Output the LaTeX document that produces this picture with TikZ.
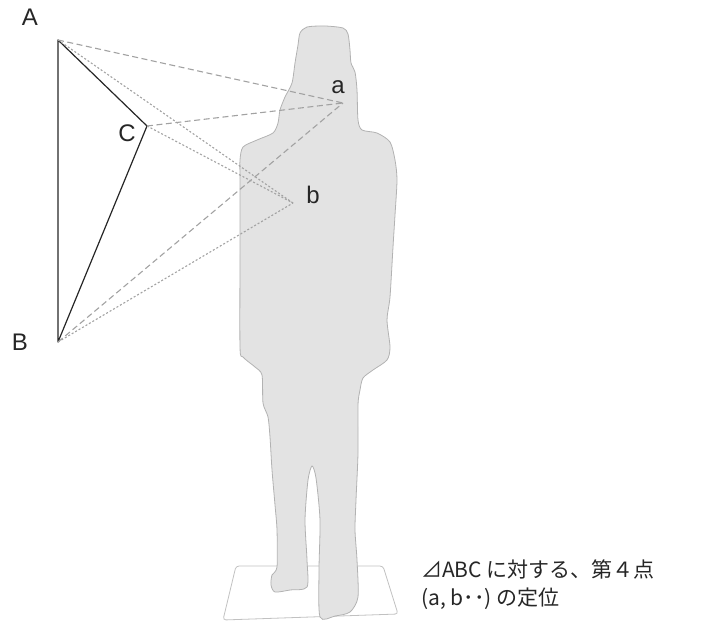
\documentclass[tikz,border=0pt]{standalone}
\usepackage{fontspec}
\setmainfont{Liberation Sans}
\newfontfamily\jpfont{Noto Sans CJK JP}
\usetikzlibrary{positioning}

\definecolor{figfill}{HTML}{E3E3E3}
\definecolor{figline}{HTML}{B2B2B2}
\definecolor{sight}{HTML}{A2A2A2}
\definecolor{ink}{HTML}{262626}

\begin{document}
\begin{tikzpicture}[
    x=1pt, y=-1pt,
    every node/.style={text=ink, inner sep=0pt},
    vertex/.style={font=\fontsize{24}{28}\selectfont},
    side/.style={draw=ink, line width=1.2pt, line join=round},
    toa/.style={draw=sight, line width=1.1pt, dash pattern=on 6pt off 3.5pt},
    tob/.style={draw=sight, line width=1.1pt, dash pattern=on 2pt off 2pt}
  ]
  \useasboundingbox (0,0) rectangle (703,628);

  % Mat under the feet
  \draw[figline!80, line width=0.8pt, rounded corners=3pt, line join=round]
    (236,566) -- (383,566) -- (398,614) -- (223,620) -- cycle;

  % Silhouette
  \filldraw[fill=figfill, draw=figline, line width=0.8pt]
    plot[smooth cycle, tension=0.45] coordinates {
      (300,33) (307,27) (325,26) (343,28) (348,34) (350,50) (351,63)
      (355,72) (357,90) (358,120) (362,130) (377,133) (390,142) (395,160)
      (397,180) (395,215) (393,247) (390,297) (387,320) (390,347) (387,360)
      (373,370) (363,378) (360,390) (358,405) (358,453) (356,500) (355,530)
      (357,560) (358,597) (350,612) (335,616) (320,617) (319,570) (320,520)
      (316,478) (312,466) (308,480) (305,520) (307,560) (307,587) (290,590)
      (275,592) (271,585) (272,575) (277,567) (277,530) (275,505) (272,470)
      (270,437) (268,417) (263,403) (262,375) (255,367) (243,357) (240,347)
      (240,250) (240,180) (240,160) (243,147) (257,140) (273,133) (278,123)
      (280,110) (285,97) (292,83) (295,63) (298,45)
    };

  % Points
  \coordinate (A) at (58,40);
  \coordinate (B) at (58,342);
  \coordinate (C) at (147,126);
  \coordinate (pa) at (343,103);
  \coordinate (pb) at (293,203);

  % Triangle
  \draw[side] (A) -- (B) -- (C) -- cycle;

  % Sight lines
  \draw[toa] (A) -- (pa);
  \draw[toa] (C) -- (pa);
  \draw[toa] (B) -- (pa);
  \draw[tob] (A) -- (pb);
  \draw[tob] (C) -- (pb);
  \draw[tob] (B) -- (pb);

  % Labels
  \node[vertex] (labA) at (30,17) {A};
  \node[vertex] (labB) at (20,342) {B};
  \node[vertex] (labC) at (127,133) {C};
  \node[vertex] (laba) at (338,87) {a};
  \node[vertex] (labb) at (313,195) {b};

  \node (caption) [anchor=north west, align=left,
      font=\jpfont\fontsize{21}{28}\selectfont] at (421,560)
    {⊿ABC に対する、第４点\\(a, b･･) の定位};
\end{tikzpicture}
\end{document}
